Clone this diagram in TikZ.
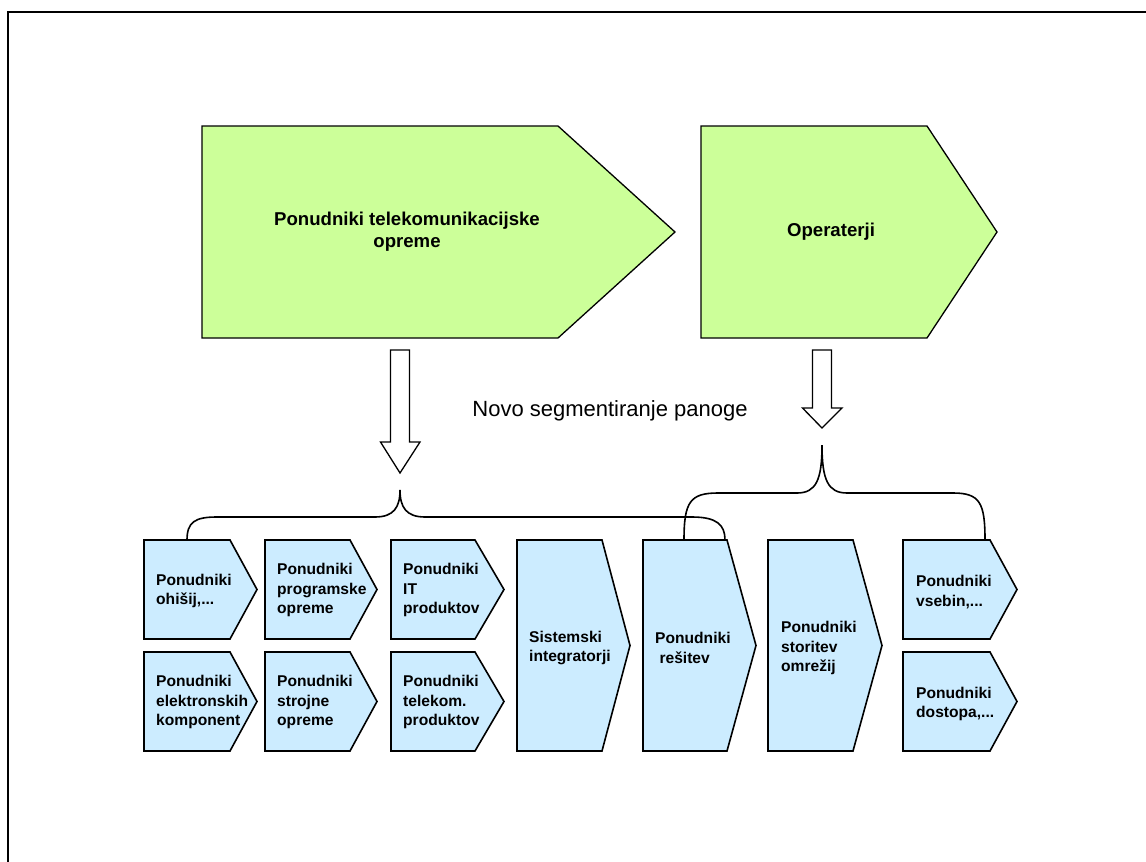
\documentclass[tikz,border=0pt]{standalone}
\usepackage{fontspec}
\setmainfont{Liberation Sans}
\definecolor{biggreen}{HTML}{CCFF99}
\definecolor{smallblue}{HTML}{CCECFF}
\tikzset{
  bigchev/.style={draw=black, line width=1.3pt, fill=biggreen},
  smallchev/.style={draw=black, line width=1.6pt, fill=smallblue},
  hollowarrow/.style={draw=black, line width=1.3pt, fill=white},
  bracket/.style={draw=black, line width=1.6pt},
  bigtext/.style={font=\fontsize{18.6}{22.3}\selectfont\bfseries, align=center, inner sep=0pt},
  smalltext/.style={font=\fontsize{15.6}{19.8}\selectfont\bfseries, align=left, inner sep=0pt, anchor=west},
  plaintext/.style={font=\fontsize{22}{26}\selectfont, inner sep=0pt}
}
\newcommand\mychev[6]{%
  \draw[#1] (#2,#3) -- (#4,#3) -- (#5,{(#3+#6)/2}) -- (#4,#6) -- (#2,#6) -- cycle;}
\begin{document}
\begin{tikzpicture}[x=1pt,y=-1pt]
\useasboundingbox (0,0) rectangle (1146,862);
% frame
\draw[line width=2pt] (8,862) -- (8,12) -- (1146,12);
% big chevrons
\mychev{bigchev}{202}{126}{558}{675}{338}
\mychev{bigchev}{701}{126}{927}{997}{338}
\node[bigtext] (telopr) at (407,232) {Ponudniki telekomunikacijske\\opreme};
\node[bigtext] (oper) at (831,232) {Operaterji};
% hollow arrows
\coordinate (a1) at (400,350);
\coordinate (a1tip) at (400,473);
\coordinate (a2) at (822,350);
\coordinate (a2tip) at (822,428);
\draw[hollowarrow] ([xshift=-9.5pt]a1) -- ([xshift=9.5pt]a1) -- ([xshift=9.5pt]a1 |- 0,442) -- ([xshift=20pt]a1 |- 0,442) -- (a1tip) -- ([xshift=-19.5pt]a1 |- 0,442) -- ([xshift=-9.5pt]a1 |- 0,442) -- cycle;
\draw[hollowarrow] ([xshift=-9.5pt]a2) -- ([xshift=9.5pt]a2) -- ([xshift=9.5pt]a2 |- 0,408) -- ([xshift=20pt]a2 |- 0,408) -- (a2tip) -- ([xshift=-19.5pt]a2 |- 0,408) -- ([xshift=-9.5pt]a2 |- 0,408) -- cycle;
\node[plaintext] (novo) at (610,411) {Novo segmentiranje panoge};
% small chevrons
\mychev{smallchev}{144}{540}{230}{257}{639}
\mychev{smallchev}{265}{540}{350}{377}{639}
\mychev{smallchev}{391}{540}{475}{504}{639}
\mychev{smallchev}{144}{652}{230}{257}{751}
\mychev{smallchev}{265}{652}{350}{377}{751}
\mychev{smallchev}{391}{652}{475}{504}{751}
\mychev{smallchev}{517}{540}{602}{630}{751}
\mychev{smallchev}{643}{540}{727}{756}{751}
\mychev{smallchev}{768}{540}{853}{882}{751}
\mychev{smallchev}{903}{540}{990}{1017}{639}
\mychev{smallchev}{903}{652}{990}{1017}{751}
\node[smalltext] (ohi) at (156,591) {Ponudniki\\ohišij,...};
\node[smalltext] (prog) at (277,590) {Ponudniki\\programske\\opreme};
\node[smalltext] (itp) at (403,590) {Ponudniki\\IT\\produktov};
\node[smalltext] (elk) at (156,702) {Ponudniki\\elektronskih\\komponent};
\node[smalltext] (stroj) at (277,702) {Ponudniki\\strojne\\opreme};
\node[smalltext] (telp) at (403,702) {Ponudniki\\telekom.\\produktov};
\node[smalltext] (sis) at (529,648) {Sistemski\\integratorji};
\node[smalltext] (res) at (655,648) {Ponudniki\\\ rešitev};
\node[smalltext] (sto) at (781,648) {Ponudniki\\storitev\\omrežij};
\node[smalltext] (vse) at (916,592) {Ponudniki\\vsebin,...};
\node[smalltext] (dos) at (916,704) {Ponudniki\\dostopa,...};
% brackets
\coordinate (b1l) at (187,540);
\coordinate (b1p) at (400,490);
\coordinate (b1r) at (725,540);
\coordinate (b2l) at (684,540);
\coordinate (b2p) at (822,445);
\coordinate (b2r) at (985,540);
\draw[bracket] (b1l) .. controls (187,522) and (195,517) .. (217,517) -- (375,517)
  .. controls (394,517) and (400,507) .. (b1p)
  .. controls (400,507) and (406,517) .. (425,517) -- (692,517)
  .. controls (717,517) and (725,525) .. (b1r);
\draw[bracket] (b2l) .. controls (684,502) and (690,493) .. (718,493) -- (797,493)
  .. controls (816,493) and (822,480) .. (b2p)
  .. controls (822,480) and (828,493) .. (847,493) -- (953,493)
  .. controls (980,493) and (985,503) .. (b2r);
\end{tikzpicture}
\end{document}
